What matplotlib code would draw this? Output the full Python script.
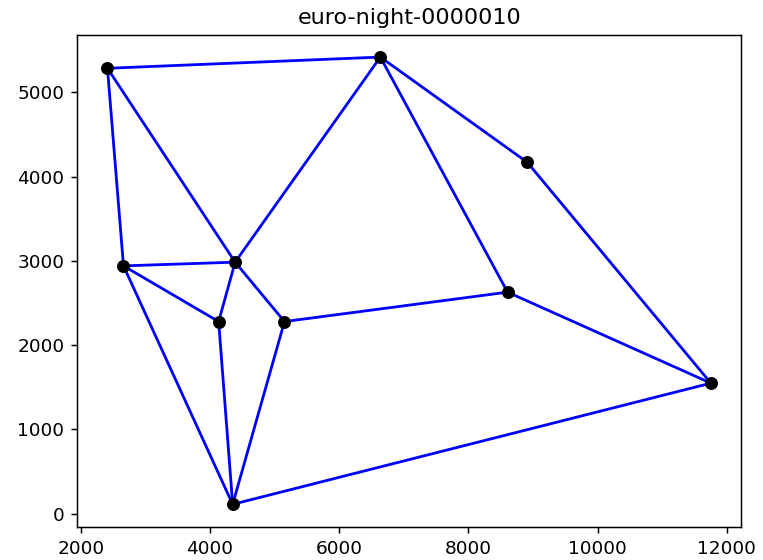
import matplotlib
matplotlib.use("Agg")
import matplotlib.pyplot as plt

names = ["A", "B", "C", "D", "E", "F", "G", "H", "I", "J"]
xs = [2412, 6636, 8909, 2660, 4388, 4133, 5152, 8605, 11752, 4350]
ys = [5287, 5420, 4172, 2942, 2986, 2281, 2281, 2630, 1550, 112]
edges = [("A", "B"), ("A", "D"), ("A", "E"), ("B", "E"), ("B", "H"), ("B", "C"),
         ("C", "I"), ("D", "E"), ("D", "F"), ("D", "J"), ("E", "F"), ("E", "G"),
         ("F", "J"), ("G", "J"), ("G", "H"), ("H", "I"), ("J", "I")]
title = "euro-night-0000010"

dpi = 133.5
fig = plt.figure(figsize=(763 / dpi, 560 / dpi), dpi=dpi)
ax = fig.add_subplot(111)
fig.subplots_adjust(left=0.1013, right=0.9712, top=0.938, bottom=0.0595)

idx = {n: i for i, n in enumerate(names)}
for a, b in edges:
    i, j = idx[a], idx[b]
    ax.plot([xs[i], xs[j]], [ys[i], ys[j]], color="b", zorder=1)
ax.plot(xs, ys, "o", color="k", linestyle="none", zorder=2)
ax.set_title(title)

fig.savefig("out.png", dpi=dpi)
